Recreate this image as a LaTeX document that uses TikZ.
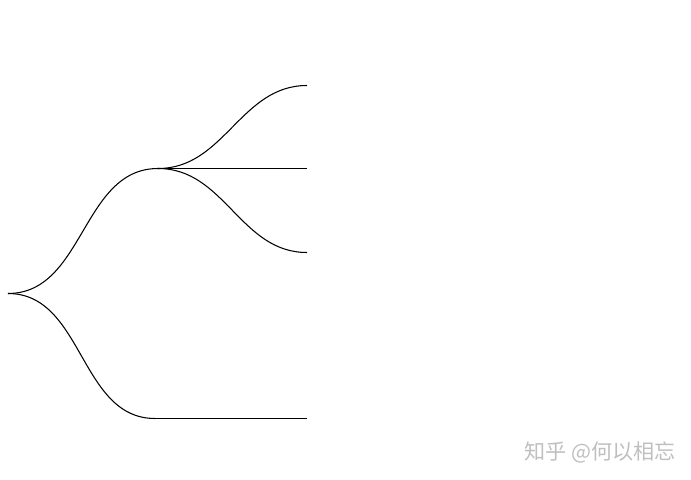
\documentclass[tikz,border=0pt]{standalone}
\usepackage{fontspec}
\newfontfamily\cjk{Noto Sans CJK SC}

\begin{document}
\begin{tikzpicture}[
        x=0.02cm,
        y=-0.02cm,
        link-branch/.style={
            line width=0.6pt,
        },
        point/.style={
            coordinate,
        },
        watermark/.style={
            text=black!25,
            font=\cjk\fontsize{12pt}{14pt}\selectfont,
            inner sep=0pt,
        },
    ]
    \useasboundingbox (0, 0) rectangle (691, 480);

    % Tree points.
    \node[point] (root) at (8, 293.5) {};
    \node[point] (n1) at (158, 168.5) {};
    \node[point] (n2) at (155, 418.5) {};
    \node[point] (l1) at (307, 85.5) {};
    \node[point] (l2) at (307, 168.5) {};
    \node[point] (l3) at (307, 252.5) {};
    \node[point] (l4) at (307, 418.5) {};

    % First level.
    \draw[link-branch] (root) to[out=0, in=180] (n1);
    \draw[link-branch] (root) to[out=0, in=180] (n2);

    % Second level.
    \foreach \leaf in {l1, l2, l3}
    \draw[link-branch] (n1) to[out=0, in=180] (\leaf);
    \draw[link-branch] (n2) -- (l4);

    % Watermark.
    \node[watermark] (mark) at (600, 452) {知乎 @何以相忘};
\end{tikzpicture}
\end{document}
